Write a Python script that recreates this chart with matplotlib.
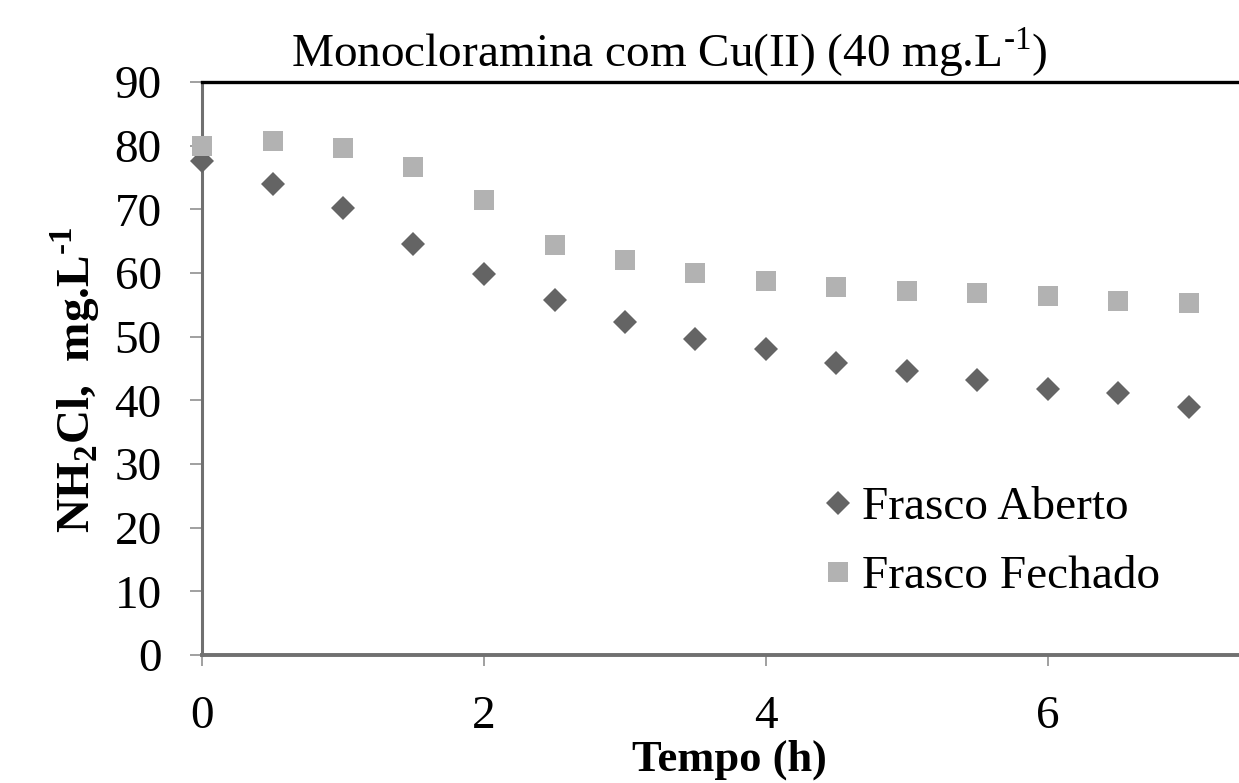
import matplotlib.pyplot as plt

plt.rcParams['font.family'] = ['Liberation Serif', 'DejaVu Serif']
plt.rcParams['mathtext.fontset'] = 'custom'
plt.rcParams['mathtext.rm'] = 'Liberation Serif'
plt.rcParams['mathtext.bf'] = 'Liberation Serif:bold'

tempo = [0, 0.5, 1, 1.5, 2, 2.5, 3, 3.5, 4, 4.5, 5, 5.5, 6, 6.5, 7]
aberto = [77.6, 74.0, 70.2, 64.6, 59.8, 55.8, 52.3, 49.6, 48.1, 45.9, 44.6, 43.2, 41.8, 41.1, 39.0]
fechado = [80.0, 80.7, 79.6, 76.6, 71.5, 64.4, 62.0, 60.0, 58.7, 57.8, 57.2, 56.9, 56.4, 55.6, 55.3]

W, H = 1239, 783
fs = 34
fig = plt.figure(figsize=(W / 100, H / 100), dpi=100)
ax = fig.add_axes([202 / W, (H - 655) / H, (1330 - 202) / W, (655 - 82) / H])

ax.plot(tempo, aberto, 'D', color='#646464', markersize=12, markeredgewidth=0,
        label='Frasco Aberto', clip_on=False, zorder=3)
ax.plot(tempo, fechado, 's', color='#b2b2b2', markersize=15, markeredgewidth=0,
        label='Frasco Fechado', clip_on=False, zorder=3)

ax.set_xlim(0, 8)
ax.set_ylim(0, 90)
ax.set_xticks([0, 2, 4, 6])
ax.set_yticks(range(0, 91, 10))

for s in ['left', 'bottom']:
    ax.spines[s].set_color('#707070')
ax.spines['left'].set_linewidth(2.2)
ax.spines['bottom'].set_linewidth(2.8)
ax.spines['top'].set_color('black')
ax.spines['top'].set_linewidth(2.4)
ax.spines['right'].set_visible(False)

ax.tick_params(axis='y', direction='out', length=9, width=1.2, color='#909090',
               labelsize=fs, pad=20)
ax.tick_params(axis='x', direction='out', length=8, width=1.2, color='#909090',
               labelsize=fs, pad=21)

fig.text(669 / W, 1 - 52 / H, r'Monocloramina com Cu(II) (40 mg.L$^{\text{-}1}$)',
         ha='center', va='center', fontsize=fs)
fig.text(75 / W, 1 - 380 / H, r'NH$_\mathbf{2}$Cl,  mg.L$^{\text{-}\mathbf{1}}$',
         rotation=90, ha='center', va='center', fontsize=fs, fontweight='bold')
fig.text(729 / W, 1 - 760 / H, 'Tempo (h)', ha='center', va='center',
         fontsize=32, fontweight='bold')

ax.legend(loc='upper left', bbox_to_anchor=(824 / W, 1 - 486 / H),
          bbox_transform=fig.transFigure, frameon=False, fontsize=fs,
          handlelength=0.6, handletextpad=0.21, labelspacing=0.55,
          borderaxespad=0, borderpad=0)

fig.savefig('out.png', dpi=100)
